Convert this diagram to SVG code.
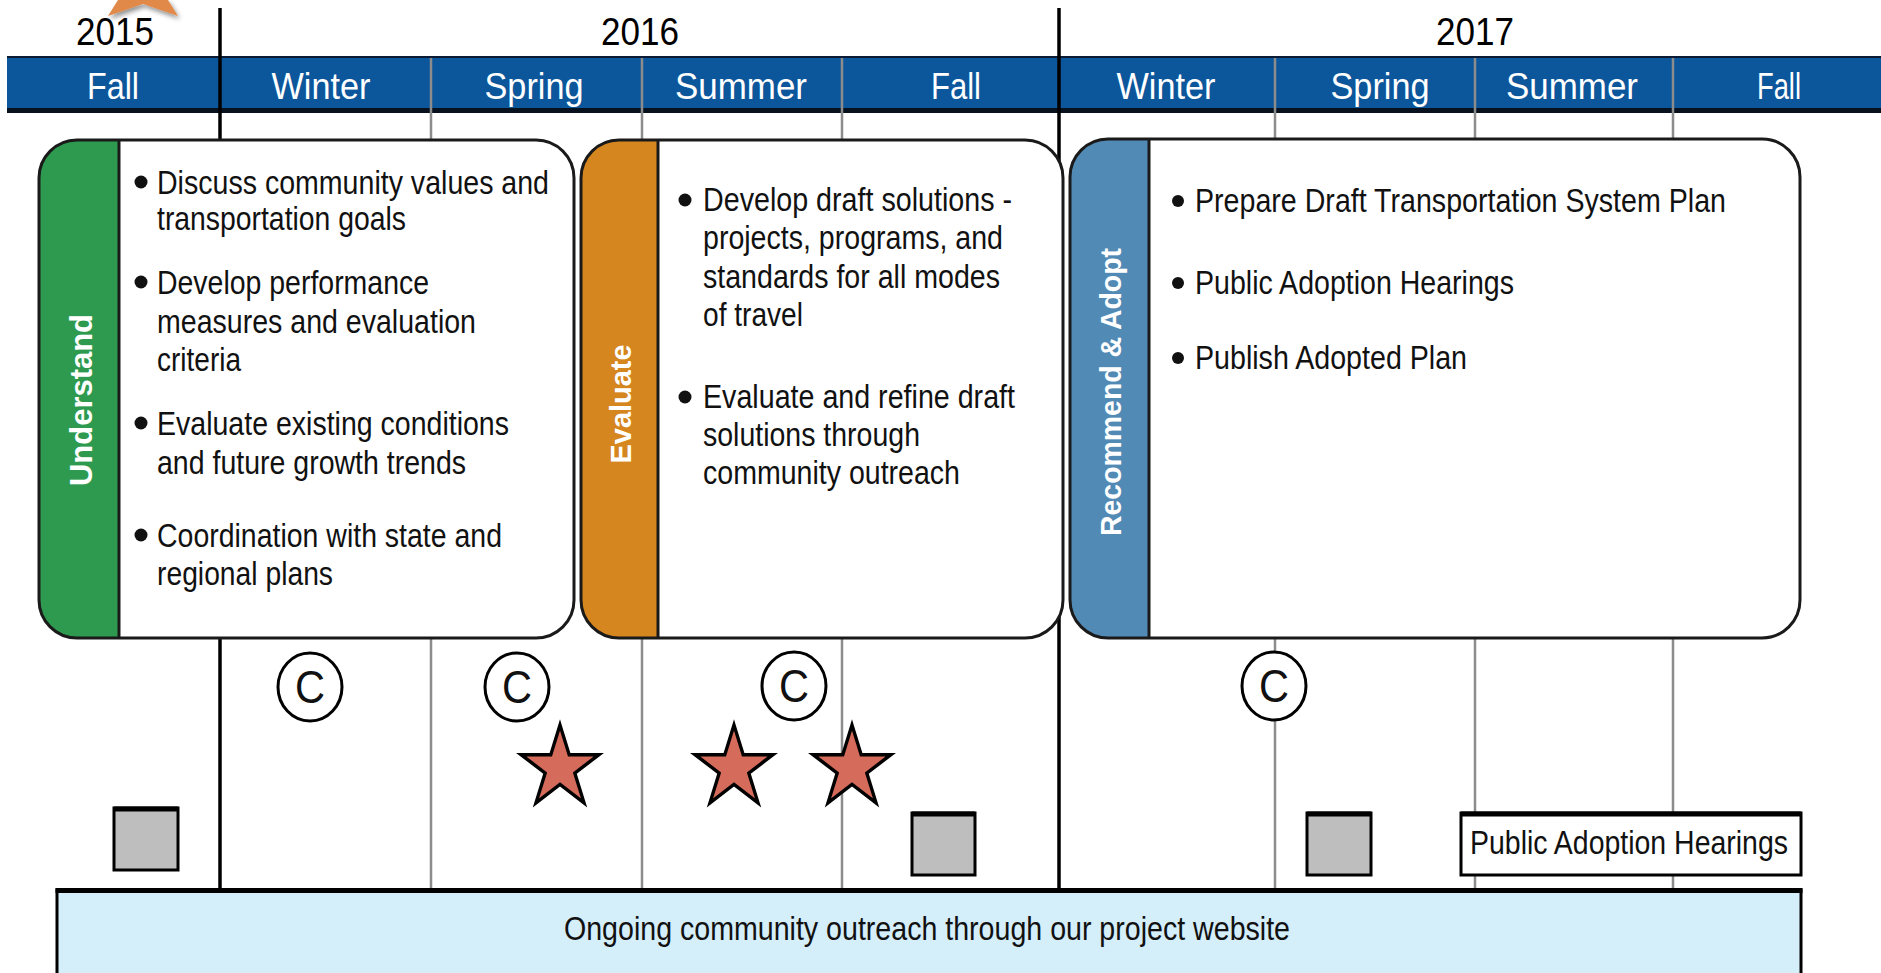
<svg xmlns="http://www.w3.org/2000/svg" width="1881" height="973" viewBox="0 0 1881 973">
<defs>
<style>
.t{font-family:"Liberation Sans",Arial,sans-serif;fill:#111;}
.yr{font-family:"Liberation Sans",Arial,sans-serif;font-size:38px;fill:#000;text-anchor:middle;}
.ss{font-family:"Liberation Sans",Arial,sans-serif;font-size:37px;fill:#fff;text-anchor:middle;}
.b1{font-size:33px;}
.b3{font-size:34px;}
.vl{font-family:"Liberation Sans",Arial,sans-serif;font-weight:bold;fill:#fff;text-anchor:middle;}
.box{fill:none;stroke:#1a1a1a;stroke-width:3;}
.div{stroke:#1a1a1a;stroke-width:3;}
.gl{stroke:#8c8c8c;stroke-width:2.5;}
.yl{stroke:#000;stroke-width:3.5;}
.dot{fill:#111;}
.cc{fill:#fff;stroke:#000;stroke-width:3;}
.ct{font-family:"Liberation Sans",Arial,sans-serif;font-size:46px;fill:#111;text-anchor:middle;}
.star{fill:#d46b5b;stroke:#000;stroke-width:3.5;stroke-linejoin:miter;}
.sq{fill:#bebebe;stroke:#000;stroke-width:3;}
</style>
<filter id="sh" x="-30%" y="-30%" width="160%" height="180%">
<feGaussianBlur in="SourceAlpha" stdDeviation="2.5"/>
<feOffset dx="2" dy="3" result="b"/>
<feComponentTransfer><feFuncA type="linear" slope="0.45"/></feComponentTransfer>
<feMerge><feMergeNode/><feMergeNode in="SourceGraphic"/></feMerge>
</filter>
<polygon id="starshape" points="0,-43 9.7,-13.3 40.9,-13.3 15.6,5.1 25.3,34.8 0,16.4 -25.3,34.8 -15.6,5.1 -40.9,-13.3 -9.7,-13.3"/>
</defs>

<rect x="0" y="0" width="1881" height="973" fill="#fff"/>

<!-- orange partial shape at top -->
<g id="orange-mark">
<polygon points="118,0 108,16 143,4 178,16 168,0" fill="#e0894a" filter="url(#sh)"/>
</g>

<!-- timeline header -->
<g id="timeline-bar">
<rect x="7" y="56" width="1880" height="55" fill="#0c569b"/>
<line x1="7" y1="57" x2="1881" y2="57" stroke="#0a1b33" stroke-width="2"/>
<line x1="7" y1="110.5" x2="1881" y2="110.5" stroke="#08121e" stroke-width="5"/>
</g>

<!-- grid lines -->
<g id="connectors">
<line class="gl" x1="431" y1="58" x2="431" y2="889"/>
<line class="gl" x1="642" y1="58" x2="642" y2="889"/>
<line class="gl" x1="842" y1="58" x2="842" y2="889"/>
<line class="gl" x1="1275" y1="58" x2="1275" y2="889"/>
<line class="gl" x1="1475" y1="58" x2="1475" y2="889"/>
<line class="gl" x1="1673" y1="58" x2="1673" y2="889"/>
<line class="yl" x1="220" y1="8" x2="220" y2="889"/>
<line class="yl" x1="1059" y1="8" x2="1059" y2="889"/>
</g>

<g id="years">
<text class="yr" x="115" y="45" textLength="78" lengthAdjust="spacingAndGlyphs">2015</text>
<text class="yr" x="640" y="45" textLength="78" lengthAdjust="spacingAndGlyphs">2016</text>
<text class="yr" x="1475" y="45" textLength="78" lengthAdjust="spacingAndGlyphs">2017</text>
</g>

<g id="seasons">
<text class="ss" x="113" y="99" textLength="52" lengthAdjust="spacingAndGlyphs">Fall</text>
<text class="ss" x="321" y="99" textLength="99" lengthAdjust="spacingAndGlyphs">Winter</text>
<text class="ss" x="534" y="99" textLength="99" lengthAdjust="spacingAndGlyphs">Spring</text>
<text class="ss" x="741" y="99" textLength="132" lengthAdjust="spacingAndGlyphs">Summer</text>
<text class="ss" x="956" y="99" textLength="50" lengthAdjust="spacingAndGlyphs">Fall</text>
<text class="ss" x="1166" y="99" textLength="99" lengthAdjust="spacingAndGlyphs">Winter</text>
<text class="ss" x="1380" y="99" textLength="99" lengthAdjust="spacingAndGlyphs">Spring</text>
<text class="ss" x="1572" y="99" textLength="132" lengthAdjust="spacingAndGlyphs">Summer</text>
<text class="ss" x="1779" y="99" textLength="44" lengthAdjust="spacingAndGlyphs">Fall</text>
</g>

<!-- Understand -->
<g id="understand">
<rect x="39" y="140" width="535" height="498" rx="38" fill="#fff"/>
<path d="M119,140 H77 A38,38 0 0 0 39,178 V600 A38,38 0 0 0 77,638 H119 Z" fill="#2d9a4f"/>
<line class="div" x1="119" y1="140" x2="119" y2="638"/>
<rect class="box" x="39" y="140" width="535" height="498" rx="38"/>
<text class="vl" transform="translate(92,400) rotate(-90)" font-size="31" textLength="172" lengthAdjust="spacingAndGlyphs">Understand</text>
<circle class="dot" cx="141" cy="182" r="6.5"/>
<circle class="dot" cx="141" cy="282" r="6.5"/>
<circle class="dot" cx="141" cy="423" r="6.5"/>
<circle class="dot" cx="141" cy="535" r="6.5"/>
<text class="t b1" x="157" y="194" textLength="392" lengthAdjust="spacingAndGlyphs">Discuss community values and</text>
<text class="t b1" x="157" y="230" textLength="249" lengthAdjust="spacingAndGlyphs">transportation goals</text>
<text class="t b1" x="157" y="294" textLength="272" lengthAdjust="spacingAndGlyphs">Develop performance</text>
<text class="t b1" x="157" y="333" textLength="319" lengthAdjust="spacingAndGlyphs">measures and evaluation</text>
<text class="t b1" x="157" y="371" textLength="84" lengthAdjust="spacingAndGlyphs">criteria</text>
<text class="t b1" x="157" y="435" textLength="352" lengthAdjust="spacingAndGlyphs">Evaluate existing conditions</text>
<text class="t b1" x="157" y="474" textLength="309" lengthAdjust="spacingAndGlyphs">and future growth trends</text>
<text class="t b1" x="157" y="547" textLength="345" lengthAdjust="spacingAndGlyphs">Coordination with state and</text>
<text class="t b1" x="157" y="585" textLength="176" lengthAdjust="spacingAndGlyphs">regional plans</text>
</g>

<!-- Evaluate -->
<g id="evaluate">
<rect x="581" y="140" width="482" height="498" rx="38" fill="#fff"/>
<path d="M658,140 H619 A38,38 0 0 0 581,178 V600 A38,38 0 0 0 619,638 H658 Z" fill="#d5861f"/>
<line class="div" x1="658" y1="140" x2="658" y2="638"/>
<rect class="box" x="581" y="140" width="482" height="498" rx="38"/>
<text class="vl" transform="translate(631,404) rotate(-90)" font-size="30" textLength="119" lengthAdjust="spacingAndGlyphs">Evaluate</text>
<circle class="dot" cx="685" cy="200" r="6.5"/>
<circle class="dot" cx="685" cy="397" r="6.5"/>
<text class="t b1" x="703" y="211" textLength="309" lengthAdjust="spacingAndGlyphs">Develop draft solutions -</text>
<text class="t b1" x="703" y="249" textLength="300" lengthAdjust="spacingAndGlyphs">projects, programs, and</text>
<text class="t b1" x="703" y="288" textLength="297" lengthAdjust="spacingAndGlyphs">standards for all modes</text>
<text class="t b1" x="703" y="326" textLength="100" lengthAdjust="spacingAndGlyphs">of travel</text>
<text class="t b1" x="703" y="408" textLength="312" lengthAdjust="spacingAndGlyphs">Evaluate and refine draft</text>
<text class="t b1" x="703" y="446" textLength="217" lengthAdjust="spacingAndGlyphs">solutions through</text>
<text class="t b1" x="703" y="484" textLength="257" lengthAdjust="spacingAndGlyphs">community outreach</text>
</g>

<!-- Recommend & Adopt -->
<g id="recommend-adopt">
<rect x="1070" y="139" width="730" height="499" rx="38" fill="#fff"/>
<path d="M1149,139 H1108 A38,38 0 0 0 1070,177 V600 A38,38 0 0 0 1108,638 H1149 Z" fill="#528ab6"/>
<line class="div" x1="1149" y1="139" x2="1149" y2="638"/>
<rect class="box" x="1070" y="139" width="730" height="499" rx="38"/>
<text class="vl" transform="translate(1121,392) rotate(-90)" font-size="30" textLength="288" lengthAdjust="spacingAndGlyphs">Recommend &amp; Adopt</text>
<circle class="dot" cx="1178" cy="201" r="6"/>
<circle class="dot" cx="1178" cy="283" r="6"/>
<circle class="dot" cx="1178" cy="358" r="6"/>
<text class="t b3" x="1195" y="212" textLength="531" lengthAdjust="spacingAndGlyphs">Prepare Draft Transportation System Plan</text>
<text class="t b3" x="1195" y="294" textLength="319" lengthAdjust="spacingAndGlyphs">Public Adoption Hearings</text>
<text class="t b3" x="1195" y="369" textLength="272" lengthAdjust="spacingAndGlyphs">Publish Adopted Plan</text>
</g>

<!-- C markers -->
<g id="c-marker-1"><ellipse class="cc" cx="310" cy="687" rx="32" ry="34"/><text class="ct" x="310" y="703" textLength="30" lengthAdjust="spacingAndGlyphs">C</text></g>
<g id="c-marker-2"><ellipse class="cc" cx="517" cy="687" rx="32" ry="34"/><text class="ct" x="517" y="703" textLength="30" lengthAdjust="spacingAndGlyphs">C</text></g>
<g id="c-marker-3"><ellipse class="cc" cx="794" cy="686" rx="32" ry="34"/><text class="ct" x="794" y="702" textLength="30" lengthAdjust="spacingAndGlyphs">C</text></g>
<g id="c-marker-4"><ellipse class="cc" cx="1274" cy="686" rx="32" ry="34"/><text class="ct" x="1274" y="702" textLength="30" lengthAdjust="spacingAndGlyphs">C</text></g>

<!-- stars -->
<g id="star-1"><use href="#starshape" class="star" transform="translate(560,768) scale(0.95,1)"/></g>
<g id="star-2"><use href="#starshape" class="star" transform="translate(734,768) scale(0.95,1)"/></g>
<g id="star-3"><use href="#starshape" class="star" transform="translate(852,768) scale(0.95,1)"/></g>

<!-- grey squares -->
<g id="square-1"><rect class="sq" x="114" y="808" width="64" height="62"/><line x1="114" y1="809" x2="178" y2="809" stroke="#000" stroke-width="5"/></g>
<g id="square-2"><rect class="sq" x="912" y="813" width="63" height="62"/><line x1="912" y1="814" x2="975" y2="814" stroke="#000" stroke-width="5"/></g>
<g id="square-3"><rect class="sq" x="1307" y="813" width="64" height="62"/><line x1="1307" y1="814" x2="1371" y2="814" stroke="#000" stroke-width="5"/></g>

<!-- Public Adoption Hearings box -->
<g id="public-adoption-hearings">
<rect x="1461" y="813" width="340" height="62" fill="#fff" stroke="#000" stroke-width="3"/>
<line x1="1461" y1="814" x2="1801" y2="814" stroke="#000" stroke-width="5"/>
<text class="t b3" x="1470" y="854" textLength="318" lengthAdjust="spacingAndGlyphs">Public Adoption Hearings</text>
</g>

<!-- outreach band -->
<g id="outreach-band">
<rect x="57" y="890" width="1744" height="90" fill="#d4eefa" stroke="#000" stroke-width="3"/>
<line x1="55.5" y1="890.5" x2="1802.5" y2="890.5" stroke="#000" stroke-width="5"/>
<text class="t" x="927" y="940" font-size="33" text-anchor="middle" textLength="726" lengthAdjust="spacingAndGlyphs">Ongoing community outreach through our project website</text>
</g>
</svg>
